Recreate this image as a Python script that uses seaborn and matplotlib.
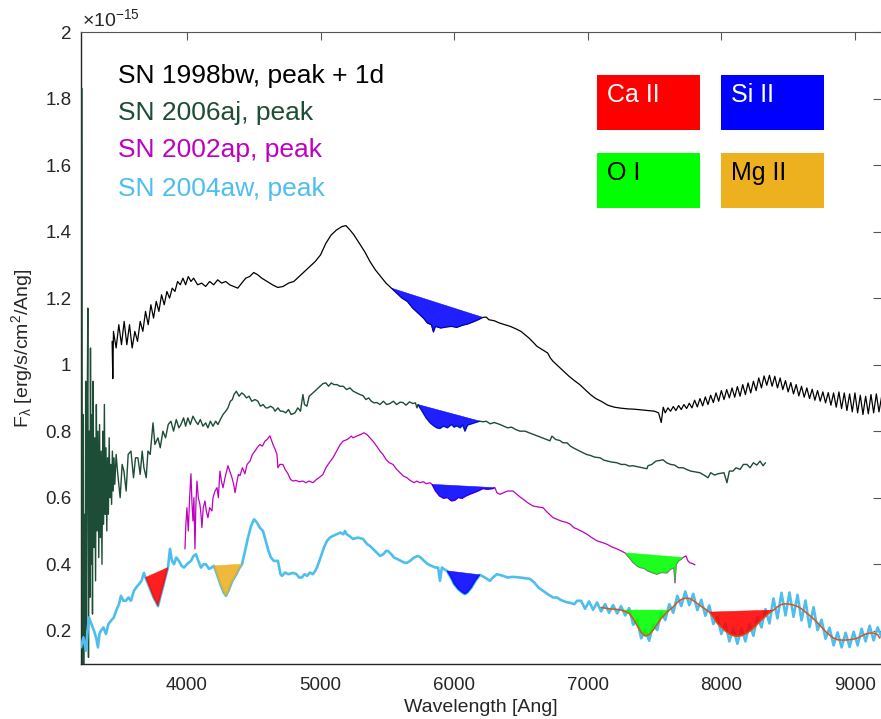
import numpy as np
import matplotlib
matplotlib.use("Agg")
import matplotlib.pyplot as plt
import seaborn as sns
from matplotlib.patches import Rectangle
from matplotlib.ticker import FuncFormatter

# ---------------- data (flux in units of 1e-15 erg/s/cm^2/Ang) ----------------
# SN 1998bw (black)
bw_wl = [3440, 3445, 3450, 3470, 3490, 3510, 3530, 3550, 3570, 3590, 3610, 3630, 3650, 3670,
         3690, 3710, 3730, 3750, 3770, 3790, 3810, 3830, 3850, 3870, 3890, 3910, 3930, 3950,
         3970, 3990, 4010, 4030, 4050, 4080, 4110, 4140, 4170, 4200, 4230, 4260, 4290, 4320,
         4350, 4380, 4410, 4440, 4470, 4500, 4530, 4560, 4600, 4640, 4680, 4720, 4760, 4800,
         4840, 4880, 4920, 4960, 5000, 5040, 5080, 5120, 5160, 5190, 5220, 5250, 5290, 5330,
         5370, 5410, 5450, 5490, 5530, 5570, 5610, 5650, 5690, 5730, 5770, 5800, 5830, 5845,
         5860, 5900, 5940, 5980, 6020, 6060, 6100, 6140, 6180, 6215, 6240, 6260, 6300, 6340,
         6380, 6420, 6460, 6500, 6530, 6560, 6590, 6620, 6660, 6700, 6720, 6740, 6780, 6820,
         6860, 6900, 6940, 6980, 7020, 7060, 7100, 7150, 7200, 7250, 7300, 7350, 7400, 7450,
         7500, 7530, 7550, 7565, 7580]
bw_fx = [1.07, 0.958, 1.10, 1.05, 1.12, 1.06, 1.13, 1.06, 1.12, 1.05, 1.10, 1.07, 1.13, 1.10,
         1.16, 1.12, 1.18, 1.14, 1.19, 1.16, 1.21, 1.18, 1.22, 1.20, 1.23, 1.22, 1.25, 1.24,
         1.26, 1.24, 1.265, 1.25, 1.26, 1.24, 1.245, 1.235, 1.25, 1.24, 1.255, 1.245, 1.25, 1.24,
         1.235, 1.23, 1.245, 1.26, 1.265, 1.277, 1.27, 1.26, 1.25, 1.24, 1.232, 1.235, 1.245, 1.25,
         1.265, 1.28, 1.295, 1.31, 1.33, 1.365, 1.39, 1.405, 1.415, 1.418, 1.405, 1.39, 1.365, 1.34,
         1.31, 1.285, 1.265, 1.245, 1.23, 1.215, 1.20, 1.19, 1.17, 1.155, 1.14, 1.125, 1.12, 1.098,
         1.115, 1.11, 1.113, 1.115, 1.112, 1.118, 1.122, 1.128, 1.135, 1.142, 1.143, 1.135, 1.132, 1.125,
         1.12, 1.115, 1.108, 1.10, 1.09, 1.08, 1.068, 1.055, 1.045, 1.035, 1.02, 1.01, 0.995, 0.98,
         0.965, 0.952, 0.94, 0.925, 0.91, 0.898, 0.89, 0.878, 0.872, 0.869, 0.867, 0.866, 0.864, 0.862,
         0.860, 0.855, 0.826, 0.872, 0.855]
# fringed red end of SN 1998bw, sampled every 20 Ang from 7600 Ang
bw_red_start = 7600
bw_red_fx = [0.870, 0.860, 0.874, 0.862, 0.877, 0.865, 0.880, 0.868, 0.884, 0.870,
             0.893, 0.873, 0.898, 0.876, 0.903, 0.880, 0.908, 0.886, 0.915, 0.890,
             0.922, 0.895, 0.925, 0.900, 0.930, 0.902, 0.934, 0.905, 0.940, 0.910,
             0.945, 0.915, 0.950, 0.922, 0.960, 0.930, 0.966, 0.938, 0.968, 0.935,
             0.965, 0.930, 0.960, 0.925, 0.952, 0.918, 0.946, 0.912, 0.940, 0.906,
             0.935, 0.902, 0.930, 0.898, 0.926, 0.893, 0.922, 0.890, 0.918, 0.885,
             0.916, 0.878, 0.915, 0.872, 0.918, 0.868, 0.915, 0.862, 0.912, 0.858,
             0.915, 0.855, 0.908, 0.850, 0.905, 0.852, 0.910, 0.855, 0.912, 0.858, 0.905]

# SN 2006aj (dark green)
aj_wl = [3215, 3216, 3219, 3222, 3227, 3232, 3237, 3242, 3247, 3252, 3258, 3263, 3268, 3273,
         3278, 3283, 3288, 3293, 3298, 3304, 3310, 3316, 3322, 3328, 3334, 3340, 3346, 3352,
         3358, 3364, 3370, 3376, 3382, 3388, 3394, 3400, 3406, 3412, 3418, 3424, 3430, 3436,
         3442, 3448, 3454, 3460, 3470, 3480, 3500, 3515, 3528, 3545, 3560, 3581, 3600, 3615,
         3633, 3650, 3665, 3678, 3695, 3708, 3725, 3746, 3760, 3783, 3800, 3820, 3840, 3860,
         3880, 3900, 3920, 3940, 3955, 3975, 3990, 4007, 4025, 4045, 4065, 4082, 4100, 4120,
         4140, 4157, 4175, 4195, 4215, 4232, 4250, 4270, 4290, 4307, 4325, 4340, 4352, 4370,
         4390, 4410, 4427, 4445, 4465, 4485, 4510, 4531, 4550, 4570, 4590, 4606, 4625, 4645,
         4660, 4681, 4700, 4718, 4740, 4760, 4780, 4808, 4830, 4850, 4868, 4880, 4898, 4915,
         4943, 5018, 5040, 5060, 5080, 5100, 5123, 5145, 5170, 5195, 5220, 5245, 5270, 5295,
         5317, 5340, 5360, 5380, 5400, 5422, 5445, 5470, 5495, 5519, 5545, 5570, 5595, 5617,
         5640, 5665, 5692, 5710, 5722, 5729, 5760, 5790, 5820, 5850, 5870, 5894, 5920, 5950,
         5980, 6000, 6021, 6045, 6065, 6081, 6100, 6130, 6160, 6193, 6216, 6240, 6270, 6300,
         6343, 6366, 6400, 6430, 6460, 6492, 6515, 6530, 6717, 6732, 6760, 6790, 6815, 6845,
         6870, 6900, 6930, 6965, 6990, 7020, 7050, 7092, 7120, 7150, 7180, 7218, 7250, 7280,
         7310, 7338, 7443, 7451, 7480, 7510, 7540, 7563, 7590, 7620, 7650, 7680, 7713, 7740,
         7770, 7800, 7840, 7870, 7900, 7920, 7950, 7975, 8020, 8042, 8060, 8087, 8110, 8140,
         8165, 8192, 8215, 8240, 8265, 8290, 8312, 8330]
aj_fx = [1.83, 0.30, 0.10, 0.85, 0.10, 0.55, 0.15, 0.95, 0.20, 0.75, 1.17, 0.12, 0.80, 0.30,
         1.05, 0.40, 0.85, 0.25, 0.95, 0.45, 0.78, 0.35, 0.88, 0.50, 0.80, 0.42, 0.82, 0.48,
         0.74, 0.40, 0.80, 0.52, 0.88, 0.55, 0.75, 0.50, 0.72, 0.55, 0.78, 0.60, 0.70, 0.58,
         0.74, 0.62, 0.72, 0.64, 0.73, 0.68, 0.60, 0.70, 0.68, 0.62, 0.73, 0.74, 0.66, 0.72,
         0.72, 0.67, 0.74, 0.69, 0.66, 0.74, 0.73, 0.825, 0.76, 0.78, 0.75, 0.80, 0.78, 0.82,
         0.83, 0.80, 0.835, 0.81, 0.82, 0.84, 0.815, 0.84, 0.82, 0.845, 0.83, 0.82, 0.835, 0.815,
         0.825, 0.81, 0.83, 0.815, 0.83, 0.82, 0.835, 0.85, 0.86, 0.87, 0.89, 0.895, 0.91, 0.92,
         0.905, 0.915, 0.91, 0.90, 0.905, 0.89, 0.895, 0.89, 0.875, 0.88, 0.87, 0.87, 0.875, 0.87,
         0.86, 0.87, 0.86, 0.86, 0.855, 0.865, 0.85, 0.855, 0.87, 0.86, 0.91, 0.88, 0.875, 0.905,
         0.915, 0.943, 0.945, 0.935, 0.945, 0.94, 0.94, 0.935, 0.935, 0.925, 0.93, 0.92, 0.915, 0.91,
         0.907, 0.895, 0.90, 0.89, 0.885, 0.886, 0.88, 0.89, 0.88, 0.883, 0.89, 0.88, 0.887, 0.886,
         0.878, 0.888, 0.883, 0.885, 0.87, 0.88, 0.86, 0.84, 0.825, 0.815, 0.81, 0.808, 0.815, 0.81,
         0.82, 0.812, 0.816, 0.81, 0.818, 0.80, 0.818, 0.822, 0.826, 0.83, 0.828, 0.83, 0.822, 0.826,
         0.82, 0.816, 0.81, 0.812, 0.805, 0.80, 0.80, 0.80, 0.771, 0.785, 0.775, 0.772, 0.765, 0.765,
         0.755, 0.748, 0.742, 0.735, 0.73, 0.727, 0.722, 0.72, 0.713, 0.71, 0.707, 0.705, 0.70, 0.70,
         0.695, 0.696, 0.687, 0.696, 0.70, 0.71, 0.712, 0.714, 0.705, 0.70, 0.698, 0.69, 0.69, 0.685,
         0.68, 0.678, 0.675, 0.668, 0.66, 0.675, 0.668, 0.672, 0.675, 0.645, 0.68, 0.68, 0.69, 0.685,
         0.70, 0.70, 0.69, 0.705, 0.698, 0.71, 0.696, 0.705]

# SN 2002ap (magenta)
ap_wl = [3985, 3992, 4000, 4010, 4020, 4030, 4038, 4045, 4052, 4060, 4067, 4075, 4085, 4097,
         4105, 4112, 4122, 4135, 4145, 4157, 4170, 4187, 4195, 4210, 4225, 4235, 4247, 4258,
         4270, 4285, 4307, 4320, 4337, 4350, 4360, 4375, 4385, 4397, 4415, 4434, 4450, 4472,
         4490, 4509, 4525, 4546, 4565, 4584, 4600, 4621, 4635, 4644, 4660, 4674, 4681, 4695,
         4718, 4735, 4756, 4775, 4793, 4815, 4840, 4868, 4890, 4915, 4943, 4970, 4995, 5018,
         5040, 5065, 5093, 5120, 5145, 5168, 5200, 5230, 5243, 5270, 5300, 5325, 5347, 5370,
         5392, 5420, 5445, 5467, 5490, 5515, 5542, 5570, 5595, 5620, 5647, 5670, 5700, 5720,
         5744, 5770, 5790, 5819, 5834, 5860, 5890, 5920, 5950, 5980, 6006, 6030, 6060, 6090,
         6118, 6150, 6180, 6216, 6250, 6290, 6305, 6320, 6343, 6370, 6400, 6440, 6470, 6500,
         6515, 6550, 6590, 6630, 6665, 6700, 6740, 6770, 6800, 6845, 6870, 6895, 6920, 6960,
         6995, 7030, 7070, 7110, 7144, 7180, 7219, 7250, 7279, 7310, 7340, 7370, 7391, 7420,
         7450, 7480, 7518, 7550, 7593, 7620, 7645, 7653, 7662, 7680, 7700, 7713, 7735, 7750,
         7765, 7785, 7803]
ap_fx = [0.446, 0.52, 0.57, 0.50, 0.60, 0.672, 0.58, 0.53, 0.60, 0.446, 0.58, 0.65, 0.60, 0.58,
         0.55, 0.51, 0.57, 0.59, 0.56, 0.54, 0.57, 0.56, 0.60, 0.62, 0.63, 0.60, 0.68, 0.65,
         0.63, 0.66, 0.696, 0.68, 0.66, 0.64, 0.615, 0.65, 0.67, 0.666, 0.69, 0.672, 0.70, 0.71,
         0.73, 0.74, 0.75, 0.76, 0.755, 0.77, 0.775, 0.786, 0.77, 0.76, 0.745, 0.73, 0.69, 0.70,
         0.70, 0.685, 0.672, 0.655, 0.65, 0.652, 0.648, 0.65, 0.645, 0.65, 0.645, 0.655, 0.662, 0.67,
         0.69, 0.705, 0.72, 0.74, 0.758, 0.77, 0.775, 0.785, 0.78, 0.785, 0.79, 0.795, 0.79, 0.78,
         0.77, 0.755, 0.74, 0.73, 0.715, 0.705, 0.70, 0.685, 0.675, 0.665, 0.66, 0.652, 0.645, 0.65,
         0.645, 0.648, 0.642, 0.645, 0.64, 0.62, 0.605, 0.598, 0.60, 0.59, 0.592, 0.60, 0.598, 0.605,
         0.61, 0.615, 0.62, 0.627, 0.625, 0.627, 0.63, 0.615, 0.61, 0.615, 0.62, 0.62, 0.61, 0.60,
         0.596, 0.585, 0.575, 0.572, 0.57, 0.555, 0.54, 0.535, 0.53, 0.525, 0.52, 0.51, 0.506, 0.498,
         0.49, 0.48, 0.47, 0.465, 0.46, 0.452, 0.446, 0.44, 0.434, 0.42, 0.405, 0.395, 0.39, 0.388,
         0.38, 0.375, 0.37, 0.375, 0.374, 0.385, 0.39, 0.344, 0.40, 0.41, 0.415, 0.42, 0.425, 0.41,
         0.404, 0.402, 0.398]

# SN 2004aw (light blue)
aw_wl = [3207, 3225, 3244, 3256, 3267, 3285, 3304, 3320, 3334, 3345, 3356, 3375, 3394, 3412,
         3431, 3453, 3470, 3491, 3506, 3525, 3543, 3562, 3581, 3603, 3620, 3641, 3660, 3678,
         3690, 3710, 3730, 3750, 3770, 3783, 3800, 3820, 3840, 3858, 3873, 3888, 3903, 3920,
         3940, 3960, 3978, 4000, 4030, 4050, 4067, 4085, 4105, 4125, 4142, 4165, 4185, 4202,
         4225, 4250, 4275, 4292, 4310, 4340, 4370, 4395, 4412, 4435, 4457, 4480, 4502, 4525,
         4545, 4569, 4590, 4610, 4629, 4650, 4681, 4700, 4711, 4735, 4760, 4793, 4820, 4840,
         4860, 4880, 4900, 4920, 4943, 4960, 4973, 5000, 5025, 5048, 5070, 5093, 5120, 5150,
         5170, 5183, 5195, 5215, 5243, 5280, 5317, 5350, 5370, 5392, 5420, 5445, 5470, 5490,
         5504, 5530, 5550, 5572, 5600, 5625, 5647, 5670, 5700, 5729, 5750, 5775, 5804, 5830,
         5860, 5880, 5894, 5908, 5925, 5946, 5975, 6000, 6030, 6060, 6081, 6100, 6130, 6160,
         6193, 6230, 6268, 6290, 6320, 6366, 6400, 6440, 6492, 6530, 6567, 6600, 6630, 6665,
         6700, 6740, 6770, 6800, 6840, 6867, 6900, 6920]
aw_fx = [0.15, 0.18, 0.14, 0.20, 0.24, 0.22, 0.20, 0.18, 0.15, 0.19, 0.20, 0.21, 0.19, 0.22,
         0.23, 0.24, 0.26, 0.28, 0.305, 0.29, 0.29, 0.30, 0.29, 0.32, 0.33, 0.34, 0.35, 0.374,
         0.36, 0.34, 0.32, 0.30, 0.285, 0.274, 0.30, 0.33, 0.36, 0.39, 0.446, 0.41, 0.40, 0.42,
         0.41, 0.395, 0.39, 0.40, 0.41, 0.425, 0.43, 0.41, 0.39, 0.40, 0.40, 0.386, 0.39, 0.395,
         0.37, 0.34, 0.315, 0.305, 0.32, 0.35, 0.37, 0.39, 0.40, 0.44, 0.48, 0.515, 0.535, 0.525,
         0.51, 0.50, 0.47, 0.44, 0.42, 0.41, 0.41, 0.37, 0.365, 0.375, 0.37, 0.374, 0.37, 0.36,
         0.36, 0.37, 0.365, 0.375, 0.37, 0.38, 0.39, 0.42, 0.45, 0.47, 0.48, 0.485, 0.49, 0.495,
         0.49, 0.50, 0.49, 0.485, 0.476, 0.48, 0.476, 0.46, 0.455, 0.446, 0.435, 0.425, 0.43, 0.44,
         0.44, 0.43, 0.42, 0.416, 0.41, 0.405, 0.404, 0.41, 0.42, 0.425, 0.42, 0.41, 0.40, 0.395,
         0.39, 0.39, 0.35, 0.39, 0.385, 0.38, 0.36, 0.34, 0.325, 0.315, 0.31, 0.315, 0.33, 0.35,
         0.368, 0.36, 0.35, 0.36, 0.37, 0.365, 0.36, 0.362, 0.36, 0.358, 0.356, 0.345, 0.33, 0.32,
         0.31, 0.30, 0.30, 0.292, 0.286, 0.284, 0.28, 0.29]
# fringed red end of SN 2004aw, sampled every 30 Ang from 6950 Ang
aw_red_start = 6950
aw_red_fx = [0.29, 0.266, 0.288, 0.263, 0.285, 0.258, 0.28, 0.254, 0.277, 0.252,
             0.274, 0.246, 0.268, 0.218, 0.233, 0.177, 0.202, 0.17, 0.22, 0.202,
             0.255, 0.232, 0.28, 0.254, 0.305, 0.274, 0.318, 0.277, 0.311, 0.262,
             0.293, 0.245, 0.276, 0.22, 0.242, 0.19, 0.221, 0.168, 0.207, 0.161,
             0.207, 0.168, 0.22, 0.185, 0.242, 0.21, 0.265, 0.222, 0.297, 0.237,
             0.314, 0.246, 0.315, 0.242, 0.308, 0.231, 0.291, 0.211, 0.271, 0.202,
             0.233, 0.176, 0.209, 0.156, 0.195, 0.15, 0.194, 0.151, 0.197, 0.156,
             0.206, 0.168, 0.215, 0.171, 0.21, 0.18]

# smooth fit to SN 2004aw red end (orange)
fit_wl = [7100, 7130, 7160, 7190, 7220, 7250, 7280, 7310, 7340, 7370, 7400, 7430, 7460, 7490,
          7520, 7550, 7580, 7610, 7640, 7670, 7700, 7730, 7760, 7790, 7820, 7850, 7880, 7910,
          7940, 7970, 8000, 8030, 8060, 8090, 8120, 8150, 8180, 8210, 8240, 8270, 8300, 8330,
          8360, 8390, 8420, 8450, 8480, 8510, 8540, 8570, 8600, 8630, 8660, 8690, 8720, 8750,
          8780, 8810, 8840, 8870, 8900, 8930, 8960, 8990, 9020, 9050, 9080, 9110, 9140, 9170, 9185]
fit_fx = [0.27, 0.268, 0.266, 0.265, 0.264, 0.262, 0.258, 0.252, 0.236, 0.215, 0.195, 0.184, 0.188, 0.202,
          0.22, 0.237, 0.25, 0.262, 0.272, 0.285, 0.294, 0.298, 0.297, 0.291, 0.282, 0.273, 0.265, 0.256,
          0.24, 0.222, 0.21, 0.199, 0.19, 0.185, 0.183, 0.185, 0.19, 0.198, 0.207, 0.22, 0.232, 0.243,
          0.254, 0.262, 0.272, 0.279, 0.281, 0.28, 0.277, 0.273, 0.266, 0.256, 0.246, 0.236, 0.224, 0.211,
          0.198, 0.187, 0.178, 0.173, 0.172, 0.172, 0.173, 0.175, 0.178, 0.184, 0.19, 0.193, 0.193, 0.188, 0.178]

# absorption features: (series, start, end, ion)
features = [("bw", 5530, 6216, "Si II"),
            ("aj", 5729, 6193, "Si II"),
            ("ap", 5834, 6305, "Si II"),
            ("ap", 7279, 7713, "O I"),
            ("aw", 3686, 3858, "Ca II"),
            ("aw", 4202, 4412, "Mg II"),
            ("aw", 5930, 6200, "Si II"),
            ("fit", 7250, 7610, "O I"),
            ("fit", 7905, 8390, "Ca II")]

legend_labels = ["SN 1998bw, peak + 1d", "SN 2006aj, peak", "SN 2002ap, peak", "SN 2004aw, peak"]
ion_names = ["Ca II", "Si II", "O I", "Mg II"]

# ---------------- styling ----------------
col = {"bw": "#000000", "aj": "#1d4d36", "ap": "#bf00bf", "aw": "#4dbeee", "fit": "#d95319"}
ion_col = {"Ca II": "#ff0000", "Si II": "#0000ff", "O I": "#00ff00", "Mg II": "#edb120"}
ion_txt = {"Ca II": "white", "Si II": "white", "O I": "black", "Mg II": "black"}

sns.set_theme(style="white")
plt.rcParams["font.family"] = ["Liberation Sans", "DejaVu Sans"]
plt.rcParams["mathtext.fontset"] = "custom"
plt.rcParams["mathtext.rm"] = "Liberation Sans"
plt.rcParams["mathtext.it"] = "Liberation Sans"

W, H = 881, 719
fig = plt.figure(figsize=(W / 100, H / 100), dpi=100)
ax = fig.add_axes([81 / W, 55 / H, 800 / W, 632 / H])

series = {
    "bw": (np.concatenate([bw_wl, bw_red_start + 20 * np.arange(len(bw_red_fx))]),
           np.concatenate([bw_fx, bw_red_fx])),
    "aj": (np.array(aj_wl, float), np.array(aj_fx, float)),
    "ap": (np.array(ap_wl, float), np.array(ap_fx, float)),
    "aw": (np.concatenate([aw_wl, aw_red_start + 30 * np.arange(len(aw_red_fx))]),
           np.concatenate([aw_fx, aw_red_fx])),
    "fit": (np.array(fit_wl, float), np.array(fit_fx, float)),
}
lws = {"bw": 0.9, "aj": 1.0, "ap": 0.9, "aw": 1.9, "fit": 1.1}
for key in ["bw", "aj", "ap", "aw", "fit"]:
    x, y = series[key]
    sns.lineplot(x=x, y=y, ax=ax, color=col[key], lw=lws[key], sort=False,
                 estimator=None, zorder=2.6 if key != "fit" else 4)

for key, lo, hi, ion in features:
    x, y = series[key]
    m = (x >= lo) & (x <= hi)
    ax.fill(x[m], y[m], color=ion_col[ion], alpha=0.88, lw=0.4, zorder=3)

ax.set_xlim(3207, 9195)
ax.set_ylim(0.1, 2.0)
ax.set_xticks([4000, 5000, 6000, 7000, 8000, 9000])
ax.set_yticks(np.arange(0.2, 2.01, 0.2))
ax.yaxis.set_major_formatter(FuncFormatter(lambda v, p: f"{v:g}"))
ax.tick_params(direction="in", length=5.8, width=0.8, color="#555555", top=True, right=True,
               labelsize=13.5, labelcolor="#262626")
ax.tick_params(axis="x", pad=9)
ax.tick_params(axis="y", pad=7)
for s in ["left", "bottom"]:
    ax.spines[s].set_color("#262626")
    ax.spines[s].set_linewidth(1.0)
ax.spines["top"].set_color("#555555")
ax.spines["top"].set_linewidth(0.8)
ax.spines["right"].set_visible(False)

ax.set_xlabel("Wavelength [Ang]", fontsize=14, color="#262626", labelpad=4)
ax.set_ylabel(r"F$_\mathregular{\lambda}$ [erg/s/cm$^\mathregular{2}$/Ang]", fontsize=14,
              color="#262626")
ax.yaxis.set_label_coords(-46 / 800, 0.5)

fig.text(82 / W, 1 - 26 / H, r"$\times$10$^{-15}$", fontsize=14, color="#262626")

# legend texts
leg_keys = ["bw", "aj", "ap", "aw"]
leg_base = [83, 120, 157, 196]
for lab, k, yb in zip(legend_labels, leg_keys, leg_base):
    fig.text(118 / W, 1 - yb / H, lab, fontsize=19, color=col[k], va="baseline")

# ion boxes
box_pos = {"Ca II": (597, 75), "Si II": (721, 75), "O I": (597, 153), "Mg II": (721, 153)}
for ion in ion_names:
    x0, y0 = box_pos[ion]
    fig.patches.append(Rectangle((x0 / W, 1 - (y0 + 55) / H), 103 / W, 55 / H,
                                 transform=fig.transFigure, facecolor=ion_col[ion],
                                 edgecolor="none", zorder=5))
    fig.text((x0 + 10) / W, 1 - (y0 + 27) / H, ion, fontsize=18, color=ion_txt[ion],
             va="baseline", zorder=6)

fig.savefig("out.png", dpi=100)
